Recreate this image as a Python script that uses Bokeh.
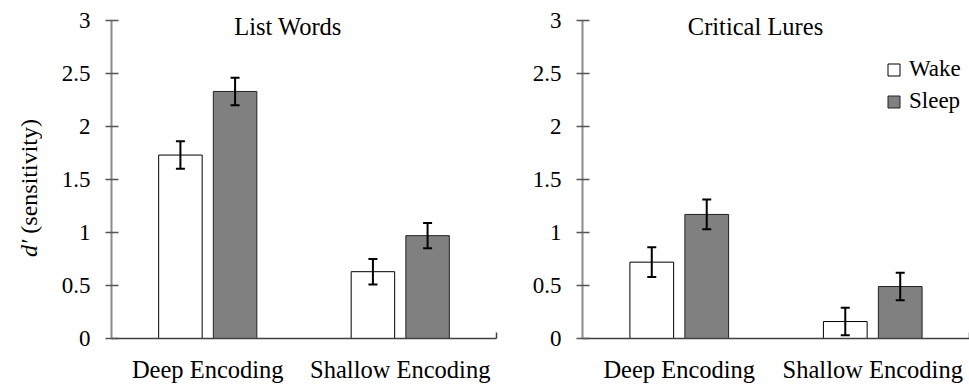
from bokeh.plotting import figure
from bokeh.layouts import row
from bokeh.models import (ColumnDataSource, Range1d, FixedTicker, Whisker, TeeHead,
                          Label, Legend, LegendItem, Div)
from bokeh.embed import file_html
from bokeh.resources import INLINE

# ---------------- data ----------------
categories = ["Deep Encoding", "Shallow Encoding"]
series_names = ["Wake", "Sleep"]
panel_titles = ["List Words", "Critical Lures"]

list_wake = [1.73, 0.63]
list_sleep = [2.33, 0.97]
list_wake_err = [0.13, 0.12]
list_sleep_err = [0.13, 0.12]

lure_wake = [0.72, 0.16]
lure_sleep = [1.17, 0.49]
lure_wake_err = [0.14, 0.13]
lure_sleep_err = [0.14, 0.13]

y_ticks = [0, 0.5, 1, 1.5, 2, 2.5, 3]
y_tick_labels = ["0", "0.5", "1", "1.5", "2", "2.5", "3"]
y_label_italic = "d\u2032"
y_label_rest = " (sensitivity)"

# ---------------- style ----------------
FONT = "Times New Roman"
BAR_W = 0.226
OFFSET = 0.142
WAKE_FILL = "white"
SLEEP_FILL = "#808080"
Y_MAX = 3
Y_HEADROOM = 0.15


def make_panel(title, wake, sleep, wake_err, sleep_err, width, b_left, b_right,
               x_end, title_x, show_legend):
    p = figure(width=width, height=385,
               x_range=Range1d(0, x_end), y_range=Range1d(0, Y_MAX + Y_HEADROOM),
               output_backend="svg", toolbar_location=None,
               min_border_left=b_left, min_border_right=b_right,
               min_border_top=4, min_border_bottom=46)
    p.outline_line_color = None
    p.grid.visible = False
    p.background_fill_color = "white"
    p.border_fill_color = "white"

    centers = [i + 0.5 for i in range(len(categories))]
    src_w = ColumnDataSource(dict(
        x=[c - OFFSET for c in centers], top=wake,
        upper=[v + e for v, e in zip(wake, wake_err)],
        lower=[v - e for v, e in zip(wake, wake_err)]))
    src_s = ColumnDataSource(dict(
        x=[c + OFFSET for c in centers], top=sleep,
        upper=[v + e for v, e in zip(sleep, sleep_err)],
        lower=[v - e for v, e in zip(sleep, sleep_err)]))

    r_w = p.vbar(x="x", top="top", bottom=0, width=BAR_W, source=src_w,
                 fill_color=WAKE_FILL, line_color="black", line_width=1)
    r_s = p.vbar(x="x", top="top", bottom=0, width=BAR_W, source=src_s,
                 fill_color=SLEEP_FILL, line_color="#222222", line_width=1)

    for src in (src_w, src_s):
        p.add_layout(Whisker(base="x", upper="upper", lower="lower", source=src,
                             level="overlay",
                             line_color="black", line_width=2,
                             upper_head=TeeHead(size=9, line_width=2, line_color="black"),
                             lower_head=TeeHead(size=9, line_width=2, line_color="black")))

    xa = p.xaxis[0]
    xa.ticker = FixedTicker(ticks=centers, minor_ticks=[float(len(categories))])
    xa.major_label_overrides = {c: name for c, name in zip(centers, categories)}
    xa.axis_line_color = "#404040"
    xa.axis_line_width = 1.5
    xa.major_tick_in = 0
    xa.major_tick_out = 0
    xa.minor_tick_in = 6
    xa.minor_tick_out = 0
    xa.minor_tick_line_color = "#404040"
    xa.minor_tick_line_width = 1.5
    xa.major_label_standoff = 17
    xa.major_label_text_font = FONT
    xa.major_label_text_font_size = "24.5px"
    xa.major_label_text_color = "black"

    ya = p.yaxis[0]
    ya.bounds = (0, Y_MAX)
    ya.ticker = FixedTicker(ticks=y_ticks)
    ya.major_label_overrides = {t: l for t, l in zip(y_ticks, y_tick_labels)}
    ya.axis_line_color = "#8c8c8c"
    ya.axis_line_width = 2
    ya.major_tick_in = 7
    ya.major_tick_out = 6
    ya.major_tick_line_color = "#555555"
    ya.major_tick_line_width = 1.5
    ya.minor_tick_in = 0
    ya.minor_tick_out = 0
    ya.major_label_standoff = 15
    ya.major_label_text_font = FONT
    ya.major_label_text_font_size = "23px"
    ya.major_label_text_color = "black"

    p.add_layout(Label(x=title_x, y=2.94, text=title, text_align="center",
                       text_baseline="middle", text_font=FONT,
                       text_font_size="24.5px", text_color="black"))

    if show_legend:
        legend = Legend(items=[LegendItem(label=series_names[0], renderers=[r_w]),
                               LegendItem(label=series_names[1], renderers=[r_s])],
                        location=(304, 224), orientation="vertical",
                        glyph_width=15, glyph_height=15, label_standoff=8,
                        spacing=6, padding=0, margin=0,
                        label_text_font=FONT, label_text_font_size="23px",
                        label_text_color="black",
                        border_line_color=None, background_fill_alpha=0)
        p.add_layout(legend)
    return p


ylabel_html = (
    '<div style="width:58px;height:319px;margin-top:28px;display:flex;'
    'align-items:center;justify-content:center;">'
    '<span style="writing-mode:vertical-rl;transform:rotate(180deg);white-space:nowrap;'
    "font-family:'Times New Roman',serif;font-size:24px;line-height:1;color:black;\">"
    f'<i>{y_label_italic}</i>{y_label_rest}</span></div>'
)
ylabel = Div(text=ylabel_html, width=58, height=385, margin=0)

p1 = make_panel(panel_titles[0], list_wake, list_sleep, list_wake_err, list_sleep_err,
                width=450, b_left=52, b_right=12, x_end=2.0, title_x=0.917,
                show_legend=False)
p2 = make_panel(panel_titles[1], lure_wake, lure_sleep, lure_wake_err, lure_sleep_err,
                width=461, b_left=74, b_right=0, x_end=2.0, title_x=0.894,
                show_legend=True)

layout = row(ylabel, p1, p2)
with open("out.html", "w") as f:
    f.write(file_html(layout, INLINE))
